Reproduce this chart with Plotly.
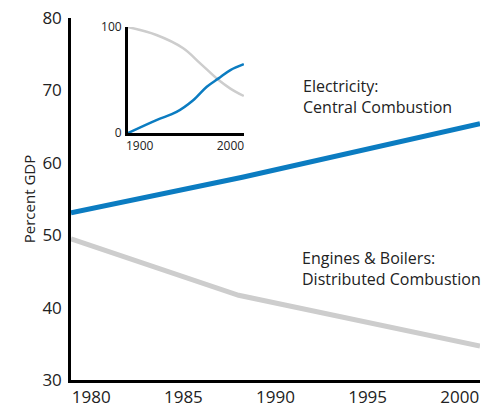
import plotly.graph_objects as go

# Main chart data
main_years_elec = [1978.9, 1988.2, 2001.1]
elec_values = [53.1, 58.0, 65.4]
main_years_eng = [1978.9, 1988.0, 2001.1]
eng_values = [49.5, 41.7, 34.7]
main_ticks = [1980, 1985, 1990, 1995, 2000]
main_yticks = [30, 40, 50, 60, 70, 80]

# Inset data
inset_years_eng = [1887, 1918.5, 1948, 1966.7, 1987, 2000, 2014.8]
inset_eng = [100, 92.5, 80, 65.8, 50, 42, 35]
inset_years_elec = [1887, 1918.5, 1940.7, 1959, 1974, 1987, 2000, 2014.8]
inset_elec = [0, 12.3, 20, 31, 43.7, 51.6, 59.4, 65]
inset_xticks = [1900, 2000]
inset_yticks = [0, 100]

BLUE = "#0B7CC1"
GRAY = "#CDCDCD"
FONT = "Open Sans"

fig = go.Figure()
fig.add_trace(go.Scatter(x=main_years_eng, y=eng_values, mode="lines",
                         line=dict(color=GRAY, width=5), xaxis="x", yaxis="y",
                         cliponaxis=False, showlegend=False))
fig.add_trace(go.Scatter(x=main_years_elec, y=elec_values, mode="lines",
                         line=dict(color=BLUE, width=5), xaxis="x", yaxis="y",
                         cliponaxis=False, showlegend=False))
fig.add_trace(go.Scatter(x=inset_years_eng, y=inset_eng, mode="lines",
                         line=dict(color=GRAY, width=2.5, shape="spline"),
                         xaxis="x2", yaxis="y2", cliponaxis=False, showlegend=False))
fig.add_trace(go.Scatter(x=inset_years_elec, y=inset_elec, mode="lines",
                         line=dict(color=BLUE, width=2.5, shape="spline"),
                         xaxis="x2", yaxis="y2", cliponaxis=False, showlegend=False))

fig.update_layout(
    width=483, height=395,
    margin=dict(l=63, r=11, t=10, b=23, autoexpand=False),
    paper_bgcolor="white", plot_bgcolor="white",
    font=dict(family=FONT, color="#222222"),
    xaxis=dict(range=[1978.9, 2001.1], tickvals=main_ticks, showgrid=False,
               zeroline=False, showline=True, linecolor="black", linewidth=2.5,
               ticks="", tickfont=dict(size=17, family=FONT), ticklabelstandoff=0,
               ticklabeloverflow="allow", automargin=False),
    yaxis=dict(range=[30, 80], tickvals=main_yticks, showgrid=False,
               zeroline=False, showline=True, linecolor="black", linewidth=2.5,
               ticks="", tickfont=dict(size=17, family=FONT), ticklabelstandoff=3,
               ticklabeloverflow="allow", automargin=False,
               title=dict(text="Percent GDP", font=dict(size=15, family=FONT), standoff=4)),
    xaxis2=dict(domain=[0.139, 0.423], anchor="y2", range=[1887, 2015],
                tickvals=inset_xticks, showgrid=False, zeroline=False,
                showline=True, linecolor="black", linewidth=2.5, ticks="",
                tickfont=dict(size=12, family=FONT), ticklabelstandoff=0,
                automargin=False),
    yaxis2=dict(domain=[0.682, 0.975], anchor="x2", range=[0, 100],
                tickvals=inset_yticks, showgrid=False, zeroline=False,
                showline=True, linecolor="black", linewidth=2.5, ticks="",
                tickfont=dict(size=12, family=FONT), ticklabelstandoff=1,
                automargin=False),
    annotations=[
        dict(text="Electricity:<br>Central Combustion", xref="paper", yref="paper",
             x=0.562, y=0.782, xanchor="left", yanchor="middle", align="left",
             showarrow=False, font=dict(size=16, family=FONT, color="#222222")),
        dict(text="Engines &amp; Boilers:<br>Distributed Combustion", xref="paper", yref="paper",
             x=0.560, y=0.307, xanchor="left", yanchor="middle", align="left",
             showarrow=False, font=dict(size=16, family=FONT, color="#222222")),
    ],
)

fig.write_html("out.html")
